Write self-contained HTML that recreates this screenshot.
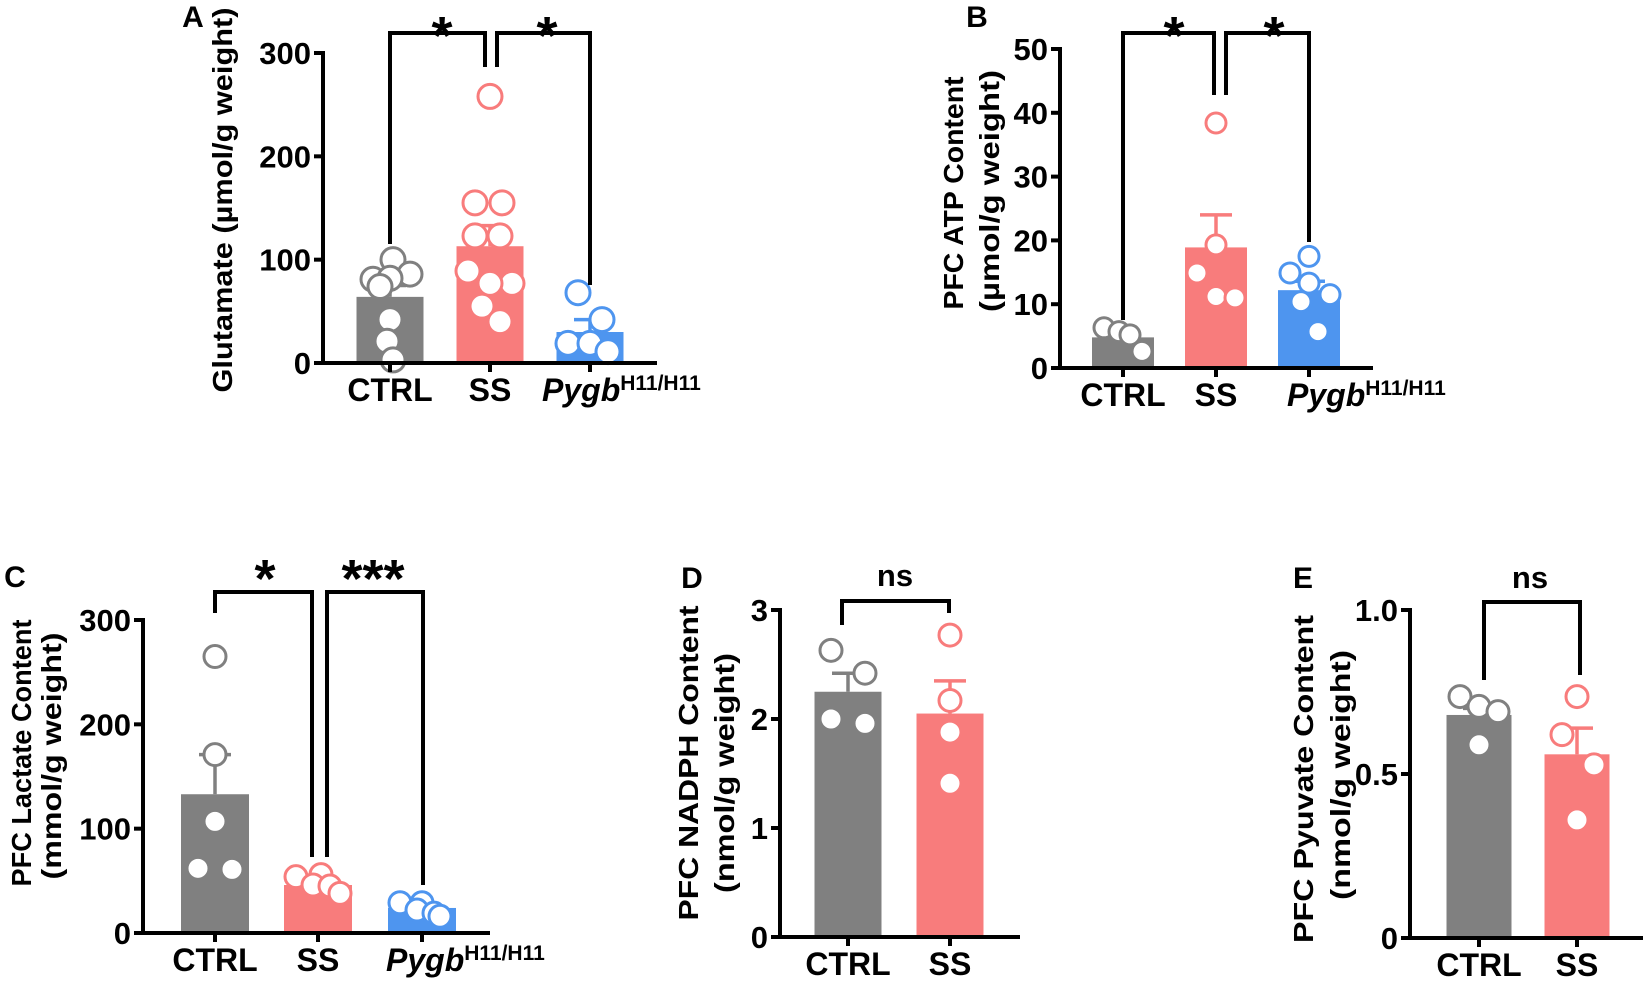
<!DOCTYPE html>
<html><head><meta charset="utf-8">
<style>
html,body{margin:0;padding:0;background:#fff;}
svg{display:block;font-family:"Liberation Sans",Arial,sans-serif;font-weight:bold;}
</style></head>
<body>
<svg id="fig" width="1650" height="981" viewBox="0 0 1650 981" xmlns="http://www.w3.org/2000/svg"></svg>
<script>
// ---- Panel A data ----
const aCats = ["CTRL","SS","Pygb"];
const aMeans = [64, 113, 30];
const aErr = [75, 133, 42];
const aTicks = [0,100,200,300];
const aDots = [[100,86,81,82,74,42,21,3],[258,155,155,123,123,89,77,77,55,40],[68,42,19,19,11]];
const aJit = [[3,20,-17,0,-10,0,-3,3],[0,-15,12,-15,10,-22,22,0,-8,10],[-12,12,-22,0,18]];
// ---- Panel B data ----
const bCats = ["CTRL","SS","Pygb"];
const bMeans = [4.8, 18.9, 12.2];
const bErr = [5.5, 24, 13.6];
const bTicks = [0,10,20,30,40,50];
const bDots = [[6.3,5.7,5.2,2.6],[38.4,19.3,14.9,11.2,11],[17.5,14.9,13.3,10.4,11.5,5.7]];
const bJit = [[-19,-4,7,19],[0,0,-19,0,19],[0,-19,0,-8,21,9]];
// ---- Panel C data ----
const cCats = ["CTRL","SS","Pygb"];
const cMeans = [133, 46, 24];
const cErr = [171, 49, 26];
const cTicks = [0,100,200,300];
const cDots = [[265,171,107,62,61],[54,56,46,45,38],[29,29,22,19,16]];
const cJit = [[0,0,0,-17,17],[-22,3,-5,12,22],[-22,0,-5,12,18]];
// ---- Panel D data ----
const dCats = ["CTRL","SS"];
const dMeans = [2.25, 2.05];
const dErr = [2.42, 2.35];
const dTicks = [0,1,2,3];
const dDots = [[2.63,2.42,2.0,1.96],[2.77,2.17,1.88,1.41]];
const dJit = [[-17,17,-17,17],[0,0,0,0]];
// ---- Panel E data ----
const eCats = ["CTRL","SS"];
const eMeans = [0.68, 0.56];
const eErr = [0.70, 0.64];
const eTicks = [0,0.5,1.0];
const eTickLabels = ["0","0.5","1.0"];
const eDots = [[0.736,0.706,0.69,0.589],[0.736,0.62,0.528,0.36]];
const eJit = [[-19,0,19,0],[0,-15,17,0]];

const COLORS = ["#808080","#f87c7c","#4e95ef"];
const NS = "http://www.w3.org/2000/svg";
const svg = document.getElementById("fig");
function mk(tag, attrs, parent, txt){
  const e = document.createElementNS(NS, tag);
  for (const k in attrs) e.setAttribute(k, attrs[k]);
  if (txt !== undefined) e.textContent = txt;
  (parent||svg).appendChild(e);
  return e;
}

function panel(cfg){
  const g = mk("g", {});
  
  
  const yScale = v => cfg.y0 - (v - cfg.vmin) / (cfg.vmax - cfg.vmin) * (cfg.y0 - cfg.yTop);
  const xScale = i => cfg.cx[i];
  const L = mk("text", {x:cfg.letter[0], y:cfg.letter[1], "font-size":30, "text-anchor":"middle"}, g, cfg.id.toUpperCase());
  
  
  cfg.ylab.forEach(l => {
    const t = mk("text", {x:0, y:0, "font-size":28, "text-anchor":"middle", transform:`translate(${l.x},${l.y}) rotate(-90)`, textLength:l.len, lengthAdjust:"spacingAndGlyphs"}, g, l.text);
    
    
  });
  cfg.means.forEach((m, i) => {
    const r = mk("rect", {x:xScale(i)-cfg.bw/2, y:yScale(m), width:cfg.bw, height:cfg.y0-yScale(m), fill:COLORS[i]}, g);
    
    
  });
  cfg.err.forEach((e, i) => {
    const eg = mk("g", {stroke:COLORS[i], "stroke-width":3.5}, g);
    
    
    mk("line", {x1:xScale(i), x2:xScale(i), y1:yScale(cfg.means[i]), y2:yScale(e)}, eg);
    mk("line", {x1:xScale(i)-16, x2:xScale(i)+16, y1:yScale(e), y2:yScale(e)}, eg);
  });
  cfg.dots.forEach((arr, i) => {
    arr.forEach((v, j) => {
      const c = mk("circle", {cx:xScale(i)+cfg.jit[i][j], cy:yScale(v), r:cfg.r, fill:"#fff", stroke:COLORS[i], "stroke-width":3}, g);
      
      
    });
  });
  const ax = mk("g", {stroke:"#000", "stroke-width":4, fill:"none"}, g);
  
  
  mk("line", {x1:cfg.ax, x2:cfg.ax, y1:yScale(cfg.vmax)-2, y2:cfg.y0+2}, ax);
  mk("line", {x1:cfg.ax-2, x2:cfg.xEnd, y1:cfg.y0, y2:cfg.y0}, ax);
  cfg.ticks.forEach((t, k) => {
    mk("line", {x1:cfg.ax-9, x2:cfg.ax, y1:yScale(t), y2:yScale(t)}, ax);
    const tl = mk("text", {x:cfg.ax-12, y:yScale(t)+11, "font-size":31, "text-anchor":"end"}, g, cfg.tickLabels ? cfg.tickLabels[k] : String(t));
    
    
  });
  cfg.cats.forEach((c, i) => {
    mk("line", {x1:xScale(i), x2:xScale(i), y1:cfg.y0, y2:cfg.y0+9}, ax);
    let t;
    if (c === "Pygb") {
      t = mk("text", {x:xScale(i)+cfg.pyOff, y:cfg.y0+38, "font-size":32}, g);
      mk("tspan", {"font-style":"italic"}, t, "Pygb");
      mk("tspan", {"font-size":21, dy:-11}, t, "H11/H11");
    } else {
      t = mk("text", {x:xScale(i), y:cfg.y0+38, "font-size":32, "text-anchor":"middle"}, g, c);
    }
    
    
  });
  cfg.brackets.forEach(b => {
    const p = mk("polyline", {points:b.pts.map(q=>q.join(",")).join(" "), stroke:"#000", "stroke-width":4, fill:"none"}, g);
    
    
    const s = mk("text", {x:b.lx, y:b.ly, "font-size":b.fs, "text-anchor":"middle"}, g, b.label);
    
    
  });
}

panel({id:"a", cats:aCats, means:aMeans, err:aErr, ticks:aTicks, dots:aDots, jit:aJit,
  vmin:0, vmax:300, y0:363, yTop:53, ax:323, xEnd:657, cx:[390,490,590], bw:67, r:12, pyOff:-48,
  letter:[193,27], ylab:[{x:232,y:200,len:385,text:"Glutamate (µmol/g weight)"}],
  brackets:[{pts:[[390,244],[390,33],[485,33],[485,67]], label:"*", lx:442, ly:54, fs:54},
            {pts:[[497,67],[497,33],[590,33],[590,285]], label:"*", lx:547, ly:54, fs:54}]});
panel({id:"b", cats:bCats, means:bMeans, err:bErr, ticks:bTicks, dots:bDots, jit:bJit,
  vmin:0, vmax:50, y0:368, yTop:49, ax:1060, xEnd:1373, cx:[1123,1216,1309], bw:62, r:10, pyOff:-22,
  letter:[977,27], ylab:[{x:963,y:193,len:233,text:"PFC ATP Content"},{x:999,y:191,len:242,text:"(µmol/g weight)"}],
  brackets:[{pts:[[1123,320],[1123,33],[1214,33],[1214,95]], label:"*", lx:1174, ly:54, fs:54},
            {pts:[[1226,95],[1226,33],[1309,33],[1309,242]], label:"*", lx:1274, ly:54, fs:54}]});
panel({id:"c", cats:cCats, means:cMeans, err:cErr, ticks:cTicks, dots:cDots, jit:cJit,
  vmin:0, vmax:300, y0:933, yTop:620, ax:143, xEnd:490, cx:[215,318,422], bw:68, r:11, pyOff:-36,
  letter:[15,587], ylab:[{x:31,y:753,len:267,text:"PFC Lactate Content"},{x:61,y:756,len:247,text:"(mmol/g weight)"}],
  brackets:[{pts:[[215,613],[215,592],[312,592],[312,857]], label:"*", lx:265, ly:597, fs:54},
            {pts:[[327,857],[327,592],[423,592],[423,885]], label:"***", lx:373, ly:597, fs:54}]});
panel({id:"d", cats:dCats, means:dMeans, err:dErr, ticks:dTicks, dots:dDots, jit:dJit,
  vmin:0, vmax:3, y0:937, yTop:610, ax:780, xEnd:1020, cx:[848,950], bw:67, r:11, pyOff:0,
  letter:[692,588], ylab:[{x:698,y:763,len:315,text:"PFC NADPH Content"},{x:734,y:773,len:240,text:"(nmol/g weight)"}],
  brackets:[{pts:[[842,625],[842,601],[949,601],[949,613]], label:"ns", lx:895, ly:586, fs:31}]});
panel({id:"e", cats:eCats, means:eMeans, err:eErr, ticks:eTicks, tickLabels:eTickLabels, dots:eDots, jit:eJit,
  vmin:0, vmax:1, y0:938, yTop:610, ax:1410, xEnd:1643, cx:[1479,1577], bw:65, r:11, pyOff:0,
  letter:[1303,588], ylab:[{x:1313,y:779,len:328,text:"PFC Pyuvate Content"},{x:1350,y:775,len:250,text:"(nmol/g weight)"}],
  brackets:[{pts:[[1484,680],[1484,602],[1580,602],[1580,675]], label:"ns", lx:1530, ly:588, fs:31}]});
</script>
</body></html>
